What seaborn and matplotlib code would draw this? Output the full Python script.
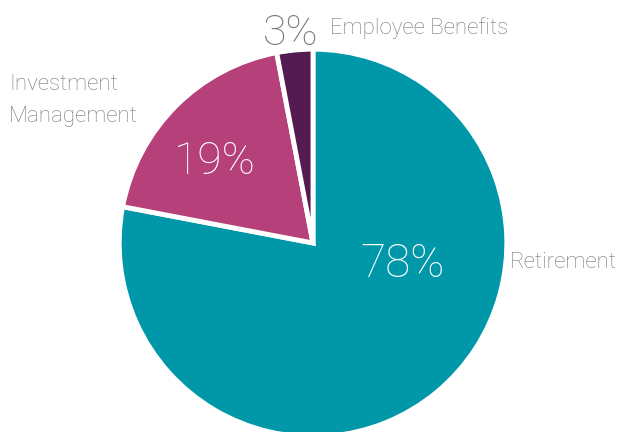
import seaborn as sns
import matplotlib.pyplot as plt

segments = ["Retirement", "Investment\nManagement", "Employee Benefits"]
shares = [78, 19, 3]
colors = ["#0098A9", "#B5407A", "#541A52"]

sns.set_style("white")
plt.rcParams['font.family'] = ['Roboto', 'DejaVu Sans']

fig = plt.figure(figsize=(6.17, 4.32), dpi=100)
ax = fig.add_axes([123 / 617, -1 / 432, 380 / 617, 380 / 432])

ax.pie(shares, colors=colors, startangle=90, counterclock=False, radius=1.02,
       wedgeprops=dict(edgecolor="white", linewidth=3.5))
ax.set_xlim(-1, 1)
ax.set_ylim(-1, 1)
ax.set_aspect("equal")
ax.axis("off")

grey = "#787878"
w = "light"
# percentages
ax.text(0.47, -0.11, f"{shares[0]}%", color="white", fontsize=33, fontweight=w,
        ha="center", va="center")
ax.text(-0.515, 0.43, f"{shares[1]}%", color="white", fontsize=32, fontweight=w,
        ha="center", va="center")
ax.text(-0.12, 1.105, f"{shares[2]}%", color=grey, fontsize=31, fontweight=w,
        ha="center", va="center", clip_on=False)

# category labels
ax.text(1.035, -0.105, segments[0], color=grey, fontsize=16, fontweight=w,
        ha="left", va="center", clip_on=False)
ax.text(-1.6, 0.75, segments[1], color=grey, fontsize=16, fontweight=w,
        ha="left", va="center", clip_on=False, linespacing=1.7)
ax.text(0.09, 1.13, segments[2], color=grey, fontsize=16, fontweight=w,
        ha="left", va="center", clip_on=False)

fig.savefig("out.png", dpi=100)
